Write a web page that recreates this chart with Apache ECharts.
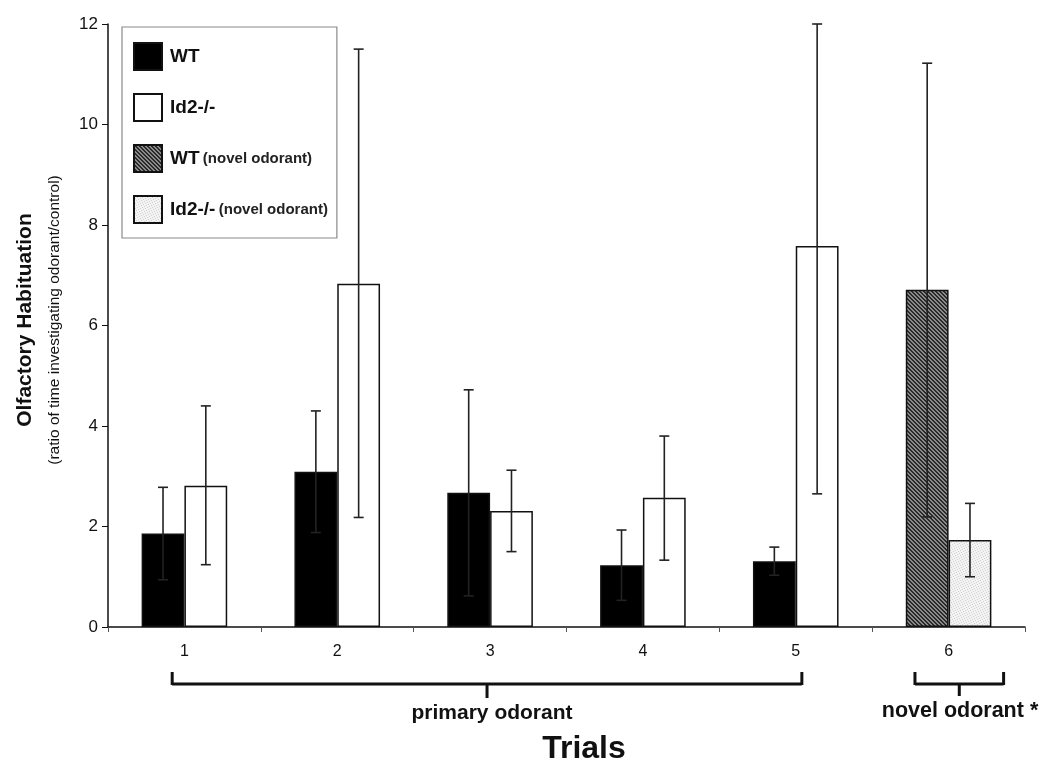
<!DOCTYPE html>
<html>
<head>
<meta charset="utf-8">
<script src="https://cdn.jsdelivr.net/npm/echarts@6/dist/echarts.min.js"></script>
<style>html,body{margin:0;padding:0;background:#fff}#c{width:1050px;height:771px}</style>
</head>
<body>
<div id="c"></div>
<script>
// ---- data ----
const trials = ['1', '2', '3', '4', '5', '6'];
const seriesNames = ['WT', 'Id2-/-', 'WT (novel odorant)', 'Id2-/- (novel odorant)'];
const wt      = [1.86, 3.09, 2.67, 1.23, 1.31, null];
const wtLow   = [0.94, 1.88, 0.62, 0.53, 1.03, null];
const wtHigh  = [2.78, 4.30, 4.72, 1.93, 1.59, null];
const id2     = [2.81, 6.83, 2.31, 2.57, 7.58, null];
const id2Low  = [1.24, 2.18, 1.50, 1.33, 2.65, null];
const id2High = [4.40, 11.50, 3.12, 3.80, 12.0, null];
const wtNovel      = [null, null, null, null, null, 6.71];
const wtNovelLow   = [null, null, null, null, null, 2.19];
const wtNovelHigh  = [null, null, null, null, null, 11.22];
const id2Novel     = [null, null, null, null, null, 1.73];
const id2NovelLow  = [null, null, null, null, null, 1.00];
const id2NovelHigh = [null, null, null, null, null, 2.46];
const yTicks = [0, 2, 4, 6, 8, 10, 12];

// ---- patterns ----
function hatch() {
  const c = document.createElement('canvas'); c.width = 4; c.height = 4;
  const g = c.getContext('2d');
  g.fillStyle = '#8a8a8a'; g.fillRect(0, 0, 4, 4);
  g.fillStyle = '#2a2a2a';
  for (let i = 0; i < 4; i++) { g.fillRect(i, i, 1, 1); g.fillRect((i + 1) % 4, i, 1, 1); }
  return c;
}
function stipple() {
  const c = document.createElement('canvas'); c.width = 5; c.height = 5;
  const g = c.getContext('2d');
  g.fillStyle = '#f3f3f3'; g.fillRect(0, 0, 5, 5);
  g.fillStyle = '#d2d2d2';
  [[0,0],[3,1],[1,2],[4,3],[2,4]].forEach(p => g.fillRect(p[0], p[1], 1, 1));
  return c;
}
const hatchFill = { image: hatch(), repeat: 'repeat' };
const dotFill = { image: stipple(), repeat: 'repeat' };

const GAP = 0.44;
function errData(lo, hi, slot) {
  const out = [];
  lo.forEach((v, i) => { if (v != null) out.push([i, v, hi[i], slot]); });
  return out;
}
const errAll = [].concat(
  errData(wtLow, wtHigh, 0), errData(id2Low, id2High, 1),
  errData(wtNovelLow, wtNovelHigh, 0), errData(id2NovelLow, id2NovelHigh, 1));

const chart = echarts.init(document.getElementById('c'));
const font = 'Liberation Sans, Arial, sans-serif';
const barStyle = (fill) => ({ color: fill, borderColor: '#111', borderWidth: 1.5 });

chart.setOption({
  backgroundColor: '#fff',
  animation: false,
  grid: { left: 108, right: 25, top: 24, bottom: 144 },
  xAxis: {
    type: 'category', data: trials,
    axisLine: { lineStyle: { color: '#111', width: 1.5 } },
    axisTick: { show: true, interval: 0, length: 5, lineStyle: { color: '#555' } },
    axisLabel: { fontFamily: font, fontSize: 16, color: '#111', margin: 17 }
  },
  yAxis: {
    type: 'value', min: 0, max: 12, interval: 2,
    splitLine: { show: false },
    axisLine: { show: true, lineStyle: { color: '#111', width: 1.5 } },
    axisTick: { show: true, length: 6, lineStyle: { color: '#111' } },
    axisLabel: { fontFamily: font, fontSize: 17, color: '#111', margin: 10,
      formatter: v => yTicks.includes(v) ? String(v) : '' }
  },
  legend: {
    orient: 'vertical', left: 122, top: 27,
    data: seriesNames,
    backgroundColor: '#fff', borderColor: '#8a8a8a', borderWidth: 1.2,
    padding: [15, 9, 14, 11], itemGap: 22, itemWidth: 28, itemHeight: 27,
    icon: 'rect',
    formatter: n => {
      const k = n.indexOf(' (');
      return k < 0 ? '{b|' + n + '}' : '{b|' + n.slice(0, k) + '} {s|' + n.slice(k + 1) + '}';
    },
    textStyle: {
      rich: {
        b: { fontFamily: font, fontWeight: 'bold', fontSize: 19, color: '#111', padding: [0, 0, 0, 3] },
        s: { fontFamily: font, fontWeight: 'bold', fontSize: 15, color: '#222' }
      }
    }
  },
  series: [
    { name: seriesNames[0], type: 'bar', stack: 'wt', data: wt, barGap: '0%', barCategoryGap: GAP * 100 + '%', itemStyle: barStyle('#000') },
    { name: seriesNames[1], type: 'bar', stack: 'id2', data: id2, itemStyle: barStyle('#fff') },
    { name: seriesNames[2], type: 'bar', stack: 'wt', data: wtNovel, itemStyle: barStyle(hatchFill) },
    { name: seriesNames[3], type: 'bar', stack: 'id2', data: id2Novel, itemStyle: barStyle(dotFill) },
    {
      type: 'custom', data: errAll, z: 10, silent: true,
      renderItem: (params, api) => {
        const cat = api.value(0), slot = api.value(3);
        const band = api.size([1, 0])[0];
        const barW = band * (1 - GAP) / 2;
        const x = api.coord([cat, 0])[0] + (slot === 0 ? -barW / 2 : barW / 2);
        const y1 = api.coord([cat, api.value(1)])[1];
        const y2 = api.coord([cat, api.value(2)])[1];
        const cw = 5;
        const st = { stroke: '#222', lineWidth: 1.6 };
        return { type: 'group', children: [
          { type: 'line', shape: { x1: x, y1: y1, x2: x, y2: y2 }, style: st },
          { type: 'line', shape: { x1: x - cw, y1: y1, x2: x + cw, y2: y1 }, style: st },
          { type: 'line', shape: { x1: x - cw, y1: y2, x2: x + cw, y2: y2 }, style: st }
        ] };
      }
    }
  ]
});

// annotations: brackets and axis titles
const px = (c) => chart.convertToPixel({ xAxisIndex: 0 }, c);
const bw = (px(1) - px(0));
const pL = px(0) - bw * 0.08, pR = px(4) + bw * 0.04;
const nL = px(5) - bw * 0.22, nR = px(5) + bw * 0.36;
const by = 684;
const ln = (x1, y1, x2, y2) => ({ type: 'line', shape: { x1, y1, x2, y2 }, style: { stroke: '#111', lineWidth: 3 } });
chart.setOption({
  graphic: [
    ln(pL, by, pR, by), ln(pL, by + 1, pL, by - 12), ln(pR, by + 1, pR, by - 12), ln((pL + pR) / 2, by, (pL + pR) / 2, by + 14),
    ln(nL, by, nR, by), ln(nL, by + 1, nL, by - 12), ln(nR, by + 1, nR, by - 12), ln((nL + nR) / 2, by, (nL + nR) / 2, by + 12),
    { type: 'text', x: (pL + pR) / 2 + 5, y: 713, style: { text: 'primary odorant', fontFamily: font, fontWeight: 'bold', fontSize: 21, fill: '#111', textAlign: 'center', textVerticalAlign: 'middle' } },
    { type: 'text', x: 960, y: 711, style: { text: 'novel odorant *', fontFamily: font, fontWeight: 'bold', fontSize: 21.5, fill: '#111', textAlign: 'center', textVerticalAlign: 'middle' } },
    { type: 'text', x: 584, y: 749, style: { text: 'Trials', fontFamily: font, fontWeight: 'bold', fontSize: 32, fill: '#111', textAlign: 'center', textVerticalAlign: 'middle' } },
    { type: 'text', x: 40, y: 320, rotation: Math.PI / 2,
      style: { text: '{t|Olfactory Habituation}\n{s|(ratio of time investigating odorant/control)}', textAlign: 'center', textVerticalAlign: 'middle',
        rich: { t: { fontFamily: font, fontWeight: 'bold', fontSize: 21, fill: '#111', lineHeight: 30 },
                s: { fontFamily: font, fontSize: 15.5, fill: '#111', lineHeight: 30 } } } }
  ]
});
</script>
</body>
</html>
